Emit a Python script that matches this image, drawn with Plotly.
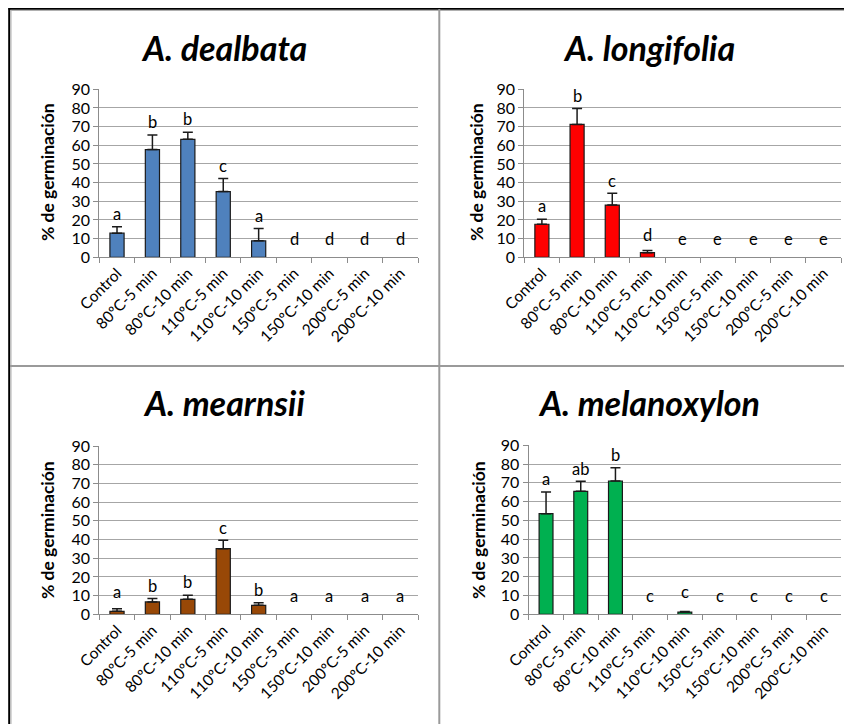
import plotly.graph_objects as go

# page body has an 8px margin, so the figure is drawn at (8, 8)
PAGE_W, PAGE_H = 852, 724
OFF = 8
W, H = PAGE_W - OFF, PAGE_H - OFF


def px_x(x):
    return (x - OFF) / W


def px_y(y):
    return 1 - (y - OFF) / H


categories = ["Control", "80ºC-5 min", "80ºC-10 min", "110ºC-5 min", "110ºC-10 min",
              "150ºC-5 min", "150ºC-10 min", "200ºC-5 min", "200ºC-10 min"]

titles = ["A. dealbata", "A. longifolia", "A. mearnsii", "A. melanoxylon"]

dealbata_vals = [12.9, 57.7, 63.2, 35.2, 8.8, 0, 0, 0, 0]
dealbata_err = [3.5, 7.8, 3.8, 7.0, 6.6, 0, 0, 0, 0]
dealbata_letters = ["a", "b", "b", "c", "a", "d", "d", "d", "d"]

longifolia_vals = [17.7, 71.2, 28.0, 2.5, 0, 0, 0, 0, 0]
longifolia_err = [2.7, 8.5, 6.3, 1.1, 0, 0, 0, 0, 0]
longifolia_letters = ["a", "b", "c", "d", "e", "e", "e", "e", "e"]

mearnsii_vals = [1.6, 6.6, 8.0, 35.1, 4.8, 0, 0, 0, 0]
mearnsii_err = [1.4, 1.8, 2.2, 4.5, 1.4, 0, 0, 0, 0]
mearnsii_letters = ["a", "b", "b", "c", "b", "a", "a", "a", "a"]

melanoxylon_vals = [53.6, 65.5, 71.0, 0, 1.2, 0, 0, 0, 0]
melanoxylon_err = [11.5, 5.3, 7.1, 0, 0.3, 0, 0, 0, 0]
melanoxylon_letters = ["a", "ab", "b", "c", "c", "c", "c", "c", "c"]

y_ticks = [0, 10, 20, 30, 40, 50, 60, 70, 80, 90]
y_title = "% de germinación"

colors = ["#4F81BD", "#FF0000", "#984807", "#00B050"]

series = [
    (dealbata_vals, dealbata_err, dealbata_letters),
    (longifolia_vals, longifolia_err, longifolia_letters),
    (mearnsii_vals, mearnsii_err, mearnsii_letters),
    (melanoxylon_vals, melanoxylon_err, melanoxylon_letters),
]

# panel geometry in page pixels: (left, right, top(90), bottom(0))
panels_px = [
    (99.3, 418, 89.3, 257.3),
    (524.3, 841, 89.3, 257.3),
    (99.3, 418, 446, 614.3),
    (528.7, 841, 445.3, 614.3),
]
title_px = [(223.5, 47), (649, 47), (224, 402), (649, 402.7)]
ytitle_px = [(47, 172), (476, 172), (47, 530), (478, 530)]

FONT = "Lato, 'Open Sans', sans-serif"
EDGE = "#1a1a1a"

fig = go.Figure()
annotations = []
for i, ((vals, errs, letters), color, (l, r, t, b)) in enumerate(zip(series, colors, panels_px)):
    ax = "" if i == 0 else str(i + 1)
    # zero-height bars draw nothing in the original
    y_vis = [v if v > 0 else None for v in vals]
    err_plus = [e if v > 0 else None for v, e in zip(vals, errs)]
    fig.add_trace(go.Bar(
        x=categories, y=y_vis,
        marker=dict(color=color, line=dict(color=EDGE, width=1.2)),
        error_y=dict(type="data", symmetric=False, array=err_plus,
                     arrayminus=[0] * len(errs),
                     color=EDGE, thickness=1.5, width=5),
        xaxis="x" + ax, yaxis="y" + ax, showlegend=False,
    ))
    fig.update_layout(**{
        "xaxis" + ax: dict(
            domain=[px_x(l), px_x(r)], anchor="y" + ax, automargin=False,
            type="category", categoryorder="array", categoryarray=categories,
            tickangle=-45, ticks="outside", tickson="boundaries",
            ticklen=5, tickcolor="#8c8c8c", showline=True, linecolor="#8c8c8c", linewidth=1.2,
            tickfont=dict(family=FONT, size=15.5, color="#000"), showgrid=False,
            range=[-0.5, len(categories) - 0.5],
        ),
        "yaxis" + ax: dict(
            domain=[px_y(b), px_y(t)], anchor="x" + ax, automargin=False,
            range=[0, 90], tickvals=y_ticks, ticks="outside", ticklen=5,
            tickcolor="#8c8c8c", showgrid=True, gridcolor="#a6a6a6", gridwidth=1.2,
            showline=True, linecolor="#8c8c8c", linewidth=1.2, zeroline=False,
            tickfont=dict(family=FONT, size=16, color="#000"),
        ),
    })
    for c, v, e, lab in zip(categories, vals, errs, letters):
        top = v + e
        if top <= 0.01:
            annotations.append(dict(x=c, y=10, xref="x" + ax, yref="y" + ax, text=lab,
                                    showarrow=False, yanchor="middle",
                                    font=dict(family=FONT, size=16.5, color="#000")))
        else:
            annotations.append(dict(x=c, y=max(top + 2.0, 7), xref="x" + ax, yref="y" + ax,
                                    text=lab, showarrow=False, yanchor="bottom", yshift=-3,
                                    font=dict(family=FONT, size=16.5, color="#000")))
    tx, ty = title_px[i]
    annotations.append(dict(x=px_x(tx), y=px_y(ty), xref="paper", yref="paper",
                            text="<b><i>" + titles[i] + "</i></b>", showarrow=False,
                            xanchor="center", yanchor="middle",
                            font=dict(family=FONT, size=34, color="#000")))
    yx, yy = ytitle_px[i]
    annotations.append(dict(x=px_x(yx), y=px_y(yy), xref="paper", yref="paper",
                            text="<b>" + y_title + "</b>", showarrow=False, textangle=-90,
                            xanchor="center", yanchor="middle",
                            font=dict(family=FONT, size=17.5, color="#000")))


def hline(y, x0, x1, color, width):
    return dict(type="line", xref="paper", yref="paper", x0=px_x(x0), x1=px_x(x1),
                y0=px_y(y), y1=px_y(y), line=dict(color=color, width=width))


def vline(x, y0, y1, color, width):
    return dict(type="line", xref="paper", yref="paper", x0=px_x(x), x1=px_x(x),
                y0=px_y(y0), y1=px_y(y1), line=dict(color=color, width=width))


shapes = [
    hline(8.7, 8.5, PAGE_W, "#000", 2),
    vline(9.2, 8, PAGE_H, "#000", 2),
    hline(10.5, 10, PAGE_W, "#b0b0b0", 1),
    vline(11, 10, PAGE_H, "#b0b0b0", 1),
    vline(439.3, 9, PAGE_H, "#9a9a9a", 2),
    hline(366, 10, PAGE_W, "#9a9a9a", 2),
]

fig.update_layout(
    width=W, height=H, autosize=False,
    margin=dict(l=0, r=0, t=0, b=0, autoexpand=False),
    paper_bgcolor="white", plot_bgcolor="white",
    bargap=0.6,
    annotations=annotations, shapes=shapes,
    font=dict(family=FONT, color="#000"),
)

fig.write_html("out.html", config={"displayModeBar": False})
